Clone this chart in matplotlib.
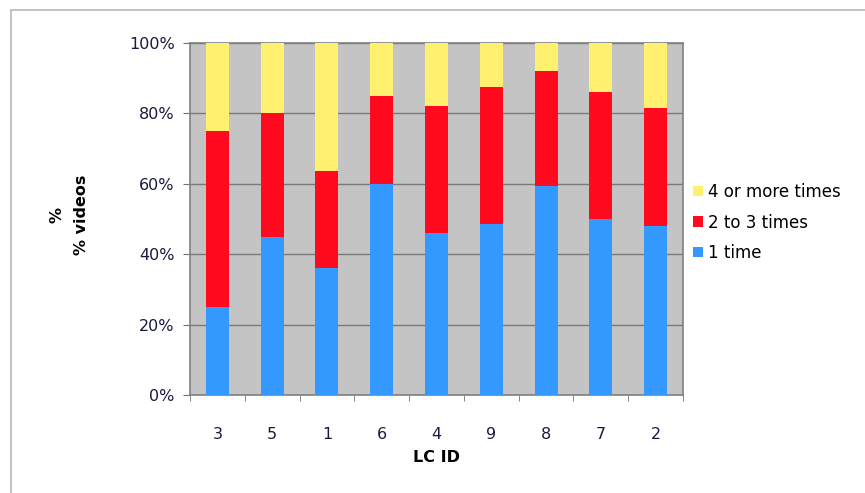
import matplotlib.pyplot as plt
import matplotlib.patches as mpatches
import numpy as np

lc_ids = ["3", "5", "1", "6", "4", "9", "8", "7", "2"]
once = [25, 45, 36, 60, 46, 48.5, 59.5, 50, 48]
two_to_three = [50, 35, 27.5, 25, 36, 39, 32.5, 36, 33.5]
four_or_more = [25, 20, 36.5, 15, 18, 12.5, 8, 14, 18.5]

series_labels = ["1 time", "2 to 3 times", "4 or more times"]
series_colors = ["#3399FF", "#FF0A1E", "#FFF070"]

fig = plt.figure(figsize=(8.65, 4.93), dpi=100)
ax = fig.add_axes([0.2197, 0.1988, 0.5699, 0.714])

# light frame around the whole chart
frame = mpatches.Rectangle((11 / 865, -0.01), 1.0, 1 - 10 / 493 + 0.01,
                           transform=fig.transFigure, fill=False,
                           edgecolor="#B8B8B8", linewidth=1.2, clip_on=False)
fig.patches.append(frame)

ax.set_facecolor("#C4C4C4")
x = np.arange(len(lc_ids))
width = 0.42
bottom = np.zeros(len(lc_ids))
for vals, lab, col in zip([once, two_to_three, four_or_more], series_labels, series_colors):
    ax.bar(x, vals, width, bottom=bottom, color=col, label=lab, zorder=3)
    bottom += np.array(vals)

ax.set_xlim(-0.5, len(lc_ids) - 0.5)
ax.set_ylim(0, 100)
ax.set_yticks(np.arange(0, 101, 20))
ax.set_yticklabels([f"{v}%" for v in range(0, 101, 20)])
ax.yaxis.grid(True, color="#7A7A7A", linewidth=1.0, zorder=1)
ax.set_axisbelow(True)

ax.set_xticks(x)
ax.set_xticklabels(lc_ids)
ax.set_xticks(np.arange(-0.5, len(lc_ids)), minor=True)
ax.tick_params(axis="x", which="major", length=0, pad=23, labelsize=11.5, colors="#1A1A40")
ax.tick_params(axis="x", which="minor", length=4, direction="out", color="#707070")
ax.tick_params(axis="y", length=5, direction="out", color="#707070", pad=6,
               labelsize=11.5, labelcolor="#1A1A40")

for side in ["top", "right", "left", "bottom"]:
    ax.spines[side].set_color("#808080")
    ax.spines[side].set_linewidth(1.2)

ax.set_xlabel("LC ID", fontsize=11.5, fontweight="bold", labelpad=6)
fig.text(57 / 865, 1 - 215 / 493, "%", rotation=90, ha="center", va="center",
         fontsize=11.5, fontweight="bold")
fig.text(82 / 865, 1 - 215 / 493, "% videos", rotation=90, ha="center", va="center",
         fontsize=11.5, fontweight="bold")

handles, labels = ax.get_legend_handles_labels()
ax.legend(handles[::-1], labels[::-1], loc="center left", bbox_to_anchor=(1.0, 0.49),
          frameon=False, fontsize=12, handlelength=0.6, handleheight=0.6,
          handletextpad=0.3, labelspacing=0.75, borderaxespad=0.2)

fig.savefig("out.png", dpi=100)
